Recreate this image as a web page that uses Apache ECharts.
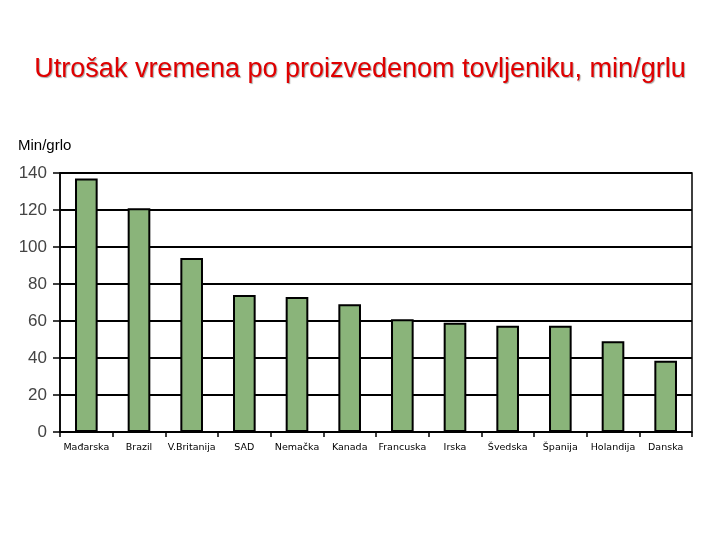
<!DOCTYPE html>
<html>
<head>
<meta charset="utf-8">
<script src="https://cdn.jsdelivr.net/npm/echarts@6/dist/echarts.min.js"></script>
<style>
  html, body { margin: 0; padding: 0; background: #fff; }
  #chart { width: 720px; height: 540px; }
</style>
</head>
<body>
<div id="chart"></div>
<script>
// values
const countries = ['Mađarska', 'Brazil', 'V.Britanija', 'SAD', 'Nemačka', 'Kanada',
  'Francuska', 'Irska', 'Švedska', 'Španija', 'Holandija', 'Danska'];
const minPerHead = [137, 121, 94, 74, 73, 69, 61, 59, 57.5, 57.5, 49, 38.5];

const chart = echarts.init(document.getElementById('chart'));

chart.setOption({
  animation: false,
  backgroundColor: '#fff',
  title: {
    text: 'Utrošak vremena po proizvedenom tovljeniku, min/grlu',
    left: 'center',
    top: 51,
    textStyle: {
      color: '#e00000',
      fontFamily: 'Liberation Sans, Arial, sans-serif',
      fontSize: 27,
      fontWeight: 'normal',
      textShadowColor: 'rgba(0,0,0,0.35)',
      textShadowOffsetX: 1,
      textShadowOffsetY: 1,
      textShadowBlur: 1
    }
  },
  grid: {
    left: 60, right: 28, top: 173, bottom: 108,
    show: true,
    borderColor: '#000',
    borderWidth: 1.5
  },
  xAxis: {
    type: 'category',
    data: countries,
    axisLine: { lineStyle: { color: '#000', width: 1.5 } },
    axisTick: { show: true, length: 5, lineStyle: { color: '#000', width: 1.5 } },
    axisLabel: {
      interval: 0,
      color: '#000',
      fontFamily: 'DejaVu Sans, Verdana, sans-serif',
      fontSize: 9.5,
      margin: 11
    }
  },
  yAxis: {
    type: 'value',
    min: 0,
    max: 140,
    interval: 20,
    name: 'Min/grlo',
    nameLocation: 'end',
    nameGap: 20,
    nameTextStyle: {
      color: '#000',
      fontFamily: 'Liberation Sans, Arial, sans-serif',
      fontSize: 15,
      align: 'left',
      padding: [0, 0, 0, -42]
    },
    axisLine: { show: true, lineStyle: { color: '#000', width: 1.5 } },
    axisTick: { show: true, length: 7, lineStyle: { color: '#000', width: 1.5 } },
    axisLabel: {
      color: '#444',
      fontFamily: 'Liberation Sans, Arial, sans-serif',
      fontSize: 17,
      margin: 13
    },
    splitLine: { lineStyle: { color: '#000', width: 1.8 } }
  },
  series: [{
    type: 'bar',
    data: minPerHead,
    barWidth: '43%',
    itemStyle: {
      color: '#8ab47a',
      borderColor: '#000',
      borderWidth: 2
    }
  }]
});
</script>
</body>
</html>
